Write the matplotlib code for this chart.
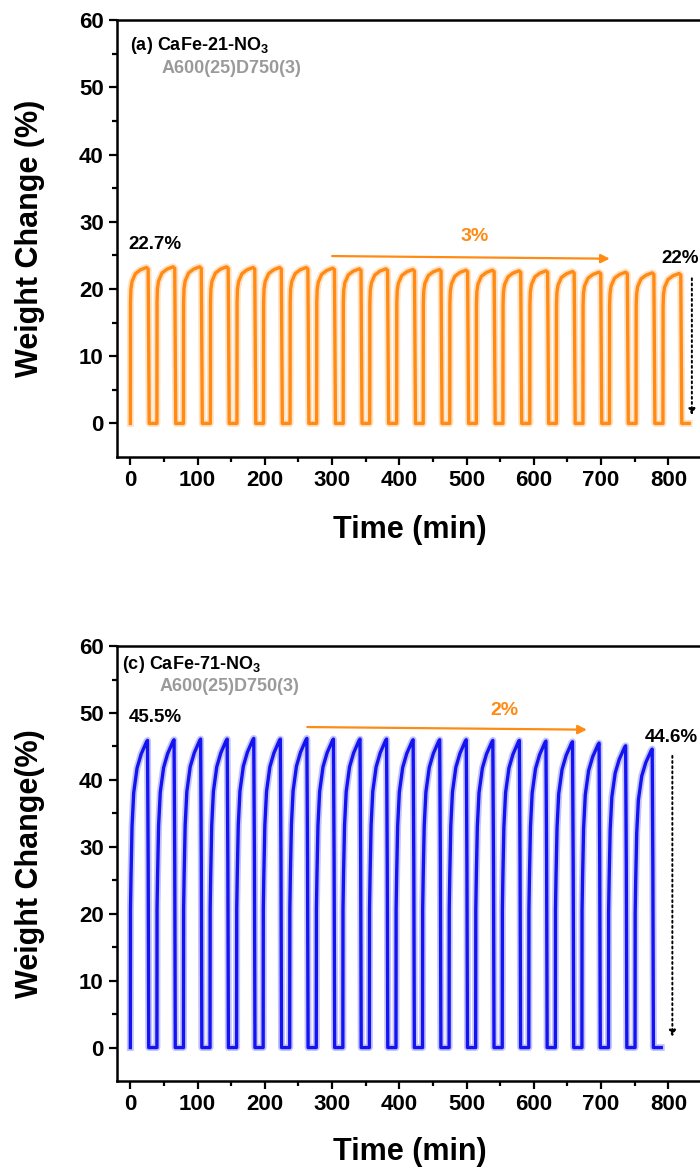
import matplotlib.pyplot as plt

plt.rcParams['font.family'] = ['Liberation Sans', 'DejaVu Sans']
plt.rcParams['font.weight'] = 'bold'
plt.rcParams['mathtext.fontset'] = 'custom'
plt.rcParams['mathtext.rm'] = 'Liberation Sans:bold'
plt.rcParams['mathtext.bf'] = 'Liberation Sans:bold'
plt.rcParams['mathtext.it'] = 'Liberation Sans:bold'

# cycle start times (min) and peak weight change (%)
starts_a = [0, 39.5, 79, 119, 158.5, 198, 237.5, 277, 316.5, 356, 396,
            435.5, 475, 514.5, 554, 594, 633.5, 673, 712.5, 752, 792]
peaks_a = [23.2, 23.3, 23.3, 23.3, 23.2, 23.2, 23.2, 23.1, 23.0, 23.0, 22.9,
           22.9, 22.8, 22.8, 22.7, 22.7, 22.6, 22.5, 22.5, 22.4, 22.3]

starts_c = [0, 39.5, 79, 118.5, 158, 197.5, 237, 276.5, 316, 355.5,
            395, 434.5, 474, 513.5, 553, 592.5, 632, 671.5, 711, 750.5]
peaks_c = [45.9, 46.0, 46.1, 46.1, 46.2, 46.1, 46.2, 46.1, 46.1, 46.1,
           46.0, 46.0, 46.0, 45.9, 45.9, 45.8, 45.7, 45.5, 45.1, 44.6]

# shape of one cycle: minutes after the switch to CO2, fraction of that cycle's peak
shape_a_t = [0, 0.2, 0.8, 2.5, 7.5, 15, 24, 26.5, 27.3, 28.0, 39.0]
shape_a_f = [0, 0.78, 0.86, 0.91, 0.96, 0.985, 1.0, 0.99, 0.5, 0, 0]
shape_c_t = [0, 0.2, 1.0, 2.5, 5, 10, 16, 24, 25.5, 26.5, 27.3, 39.0]
shape_c_f = [0, 0.45, 0.56, 0.72, 0.83, 0.91, 0.955, 0.995, 1.0, 0.6, 0, 0]


def build(starts, peaks, st, sf):
    t, w = [], []
    for s, p in zip(starts, peaks):
        t += [s + x for x in st]
        w += [p * f for f in sf]
    return t, w


orange = '#FF8A14'
blue = '#1414F0'
grey = '#9A9A9A'

fig = plt.figure(figsize=(7, 11.74), dpi=100)
ax1 = fig.add_axes([0.167, 0.6107, 0.855, 0.3722])
ax2 = fig.add_axes([0.167, 0.0792, 0.855, 0.3705])

ta, wa = build(starts_a, peaks_a, shape_a_t, shape_a_f)
tc, wc = build(starts_c, peaks_c, shape_c_t, shape_c_f)

ax1.plot(ta, wa, color=orange, lw=5, alpha=0.25, solid_joinstyle='round')
ax1.plot(ta, wa, color=orange, lw=2.4, solid_joinstyle='round')
ax2.plot(tc, wc, color=blue, lw=5, alpha=0.25, solid_joinstyle='round')
ax2.plot(tc, wc, color=blue, lw=2.4, solid_joinstyle='round')

for ax, ylab, ly in ((ax1, 'Weight Change (%)', -0.167), (ax2, 'Weight Change(%)', -0.163)):
    ax.set_xlim(-20, 870)
    ax.set_ylim(-5, 60)
    ax.set_xticks(range(0, 801, 100))
    ax.set_xticks(range(50, 851, 100), minor=True)
    ax.set_yticks(range(0, 61, 10))
    ax.set_yticks(range(5, 56, 10), minor=True)
    ax.tick_params(which='major', length=6, width=1.6, labelsize=16, direction='out')
    ax.tick_params(which='minor', length=3.5, width=1.6, direction='out')
    for sp in ax.spines.values():
        sp.set_linewidth(1.8)
    ax.set_xlabel('Time (min)', fontsize=22, fontweight='bold')
    ax.xaxis.set_label_coords(0.49, ly)
    ax.xaxis.label.set_va('center')
    ax.set_ylabel(ylab, fontsize=22, fontweight='bold')
    ax.yaxis.set_label_coords(-0.145, 0.5)
    ax.yaxis.label.set_va('center')

# panel (a) texts
ax1.text(0, 56.2, r'(a) CaFe-21-NO$_\mathbf{3}$', fontsize=13, fontweight='bold', va='center')
ax1.text(47, 52.8, 'A600(25)D750(3)', fontsize=13, fontweight='bold', color=grey, va='center')
ax1.text(-3, 26.6, '22.7%', fontsize=13.5, fontweight='bold', va='center')
ax1.text(790, 24.6, '22%', fontsize=13.5, fontweight='bold', va='center')
ax1.text(512, 27.8, '3%', fontsize=14, fontweight='bold', color=orange, ha='center', va='center')
ax1.annotate('', xy=(717, 24.5), xytext=(296, 24.9),
             arrowprops=dict(arrowstyle='-|>', color=orange, lw=1.6, mutation_scale=13))
ax1.annotate('', xy=(835, 0.8), xytext=(835, 22),
             arrowprops=dict(arrowstyle='-|>', color='black', lw=1.4, linestyle=':',
                             mutation_scale=9))

# panel (c) texts
ax2.text(-13, 57.3, r'(c) CaFe-71-NO$_\mathbf{3}$', fontsize=13, fontweight='bold', va='center')
ax2.text(43, 54, 'A600(25)D750(3)', fontsize=13, fontweight='bold', color=grey, va='center')
ax2.text(-3, 49.3, '45.5%', fontsize=13.5, fontweight='bold', va='center')
ax2.text(765, 46.4, '44.6%', fontsize=13.5, fontweight='bold', va='center')
ax2.text(557, 50.4, '2%', fontsize=14, fontweight='bold', color=orange, ha='center', va='center')
ax2.annotate('', xy=(683, 47.5), xytext=(259, 47.9),
             arrowprops=dict(arrowstyle='-|>', color=orange, lw=1.6, mutation_scale=13))
ax2.annotate('', xy=(806, 1.2), xytext=(806, 44),
             arrowprops=dict(arrowstyle='-|>', color='black', lw=1.4, linestyle=':',
                             mutation_scale=9))

fig.savefig('out.png', dpi=100)
